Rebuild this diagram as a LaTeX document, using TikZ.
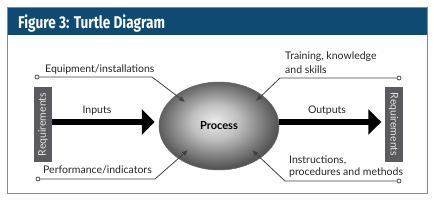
\documentclass[tikz,border=0pt]{standalone}
\usepackage{fontspec}
\setmainfont{Lato}
\newfontfamily\titlefont{Fira Sans}
\usetikzlibrary{shapes.geometric,arrows.meta}

\definecolor{headblue}{HTML}{0F4A72}
\definecolor{reqgray}{HTML}{5B5B5F}
\definecolor{framegray}{HTML}{8A8A8A}
\pgfdeclareradialshading{procshade}{\pgfpoint{-2bp}{3bp}}{color(0bp)=(black!8); color(10bp)=(black!25); color(25bp)=(black!66); color(50bp)=(black!66)}

\tikzset{
  reqbox/.style={fill=reqgray, text=black!10, minimum width=75pt, minimum height=18pt,
    inner sep=0pt, font=\fontsize{10.5}{12}\selectfont},
  lbl/.style={anchor=base west, inner sep=0pt, text=black!85, align=left,
    font=\fontsize{10.5}{12}\selectfont},
  feed/.style={draw=black!75, line width=0.8pt, -{Latex[length=6pt,width=5pt]}},
  flow/.style={line width=6pt, -{Triangle[length=13pt,width=25pt]}},
  dotend/.style={circle, draw=black!70, fill=white, line width=0.8pt, inner sep=0pt, minimum size=4pt}
}

\begin{document}
\begin{tikzpicture}[x=1pt,y=-1pt]
 \useasboundingbox (0,0) rectangle (434,201);
 % frame and header
 \fill[headblue] (7,7) rectangle (427,35);
 \draw[framegray, line width=0.8pt] (7,7) rectangle (427,193);
 \node[anchor=base west, inner sep=0pt, text=white, xscale=0.8,
   font=\titlefont\bfseries\fontsize{17}{19}\selectfont] (title) at (18,28) {Figure 3: Turtle Diagram};

 % process and requirements
 \node[ellipse, shading=procshade, draw=black!60, line width=0.5pt, minimum width=120pt,
   minimum height=88pt, inner sep=0pt, font=\bfseries\fontsize{11}{12}\selectfont] (proc) at (219,126) {Process};
 \node[reqbox, rotate=90] (reqL) at (43,124.5) {Requirements};
 \node[reqbox, rotate=-90] (reqR) at (393.5,124.5) {Requirements};

 \draw[flow] ([yshift=2.5pt]reqL.south) -- ([yshift=2.5pt]reqL.south -| proc.west) [shorten >=4pt];
 \draw[flow, shorten >=3pt] ([yshift=2.5pt]reqR.south -| proc.east) -- ([yshift=2.5pt]reqR.south);
 \node[lbl, anchor=base] (inp) at (97,113) {Inputs};
 \node[lbl, anchor=base] (outp) at (327,113) {Outputs};

 % feeding lines
 \node[dotend] (eqDot) at (37,77) {};
 \node[dotend] (trDot) at (399,78) {};
 \node[dotend] (pfDot) at (38,179) {};
 \node[dotend] (inDot) at (399,181) {};
 \coordinate (eqBend) at (152,77);
 \coordinate (trBend) at (280,78);
 \coordinate (pfBend) at (155,179);
 \coordinate (inBend) at (285,181);
 \coordinate (eqTip) at (185,102);
 \coordinate (trTip) at (256,101);
 \coordinate (pfTip) at (188,150);
 \coordinate (inTip) at (252,150);
 \draw[feed] (eqDot) -- (eqBend) -- (eqTip);
 \draw[feed] (trDot) -- (trBend) -- (trTip);
 \draw[feed] (pfDot) -- (pfBend) -- (pfTip);
 \draw[feed] (inDot) -- (inBend) -- (inTip);

 \node[lbl] (eqLab) at (45,72) {Equipment/installations};
 \node[lbl] (trLab) at (285,73) {Training, knowledge\\[2pt]and skills};
 \node[lbl] (pfLab) at (43,173) {Performance/indicators};
 \node[lbl] (inLab) at (289,175) {Instructions,\\procedures and methods};
\end{tikzpicture}
\end{document}
